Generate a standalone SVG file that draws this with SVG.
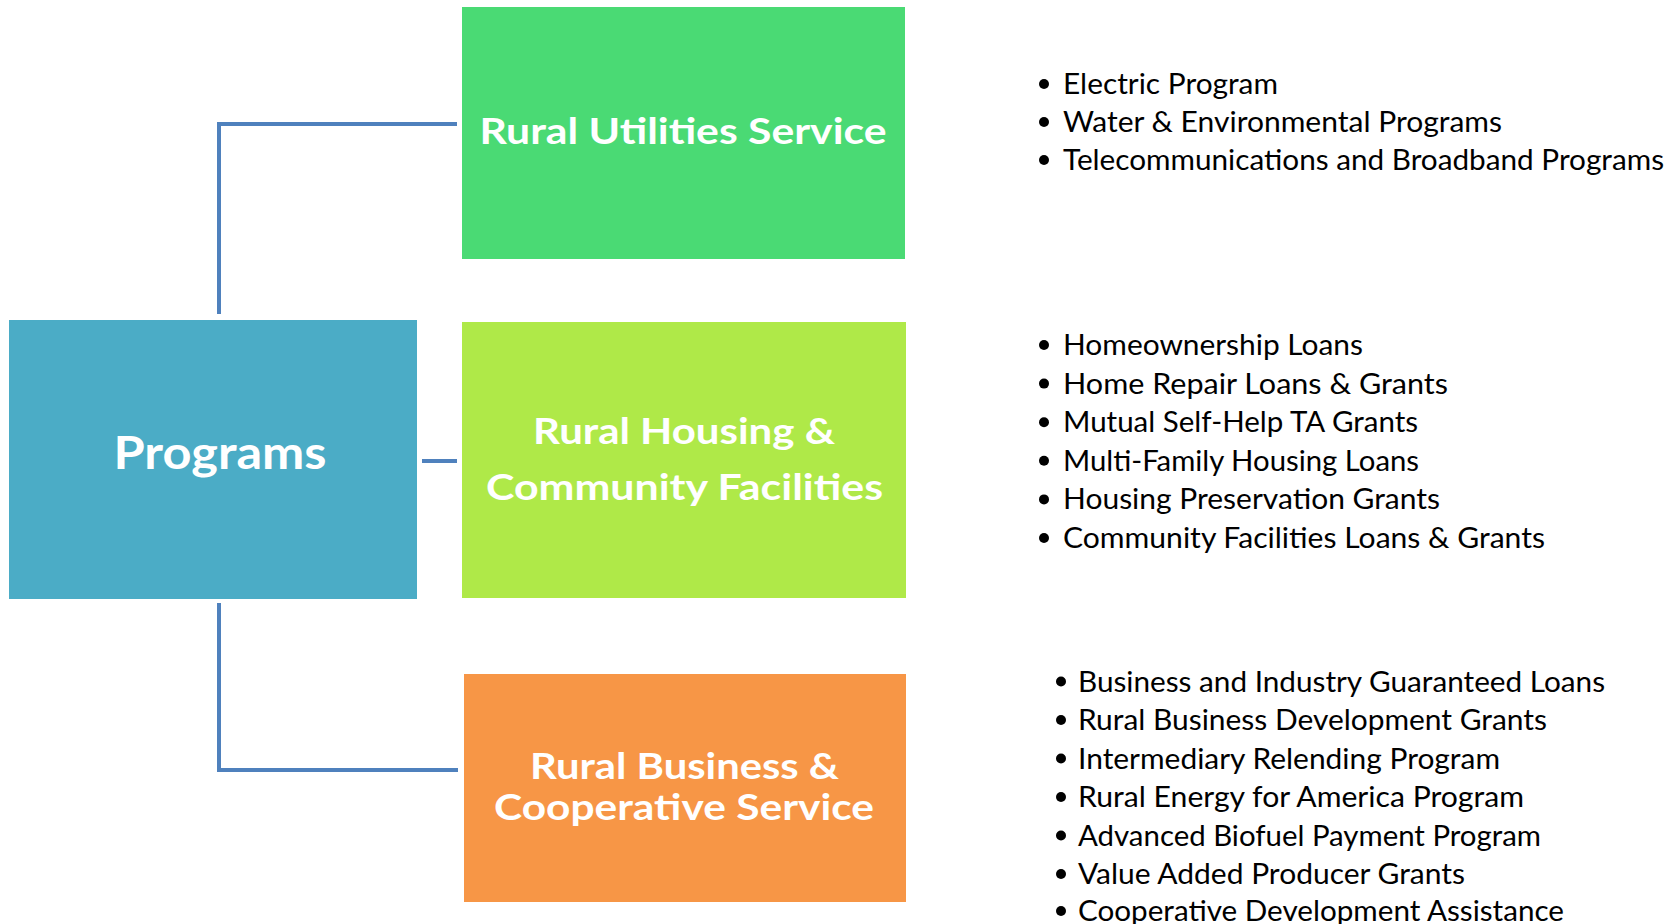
<svg xmlns="http://www.w3.org/2000/svg" width="1670" height="924" viewBox="0 0 1670 924">
<style>
.title{font-family:Lato,"Liberation Sans",sans-serif;font-weight:700;fill:#ffffff;text-anchor:middle}
.item{font-family:Lato,"Liberation Sans",sans-serif;font-size:28px;fill:#000000}
.bul{fill:#000000}
.conn{fill:none;stroke:#4F81BD;stroke-width:4}
</style>
<rect width="1670" height="924" fill="#ffffff"/>
<g id="connectors">
<polyline class="conn" points="219,314 219,124 457,124"/>
<line class="conn" x1="422" y1="461" x2="457" y2="461"/>
<polyline class="conn" points="219,603 219,770 458,770"/>
</g>
<g id="programs">
<rect x="9" y="320" width="408" height="279" fill="#4BACC6"/>
<text class="title" x="220" y="469" font-size="45" textLength="213" lengthAdjust="spacingAndGlyphs">Programs</text>
</g>
<g id="rus">
<rect x="462" y="7" width="443" height="252" fill="#4ADA74"/>
<text class="title" x="683" y="144" font-size="36" textLength="407" lengthAdjust="spacingAndGlyphs">Rural Utilities Service</text>
</g>
<g id="rhcf">
<rect x="462" y="322" width="444" height="276" fill="#AFE948"/>
<text class="title" x="684" y="444" font-size="36" textLength="302" lengthAdjust="spacingAndGlyphs">Rural Housing &amp;</text>
<text class="title" x="684.5" y="500" font-size="36" textLength="397" lengthAdjust="spacingAndGlyphs">Community Facilities</text>
</g>
<g id="rbcs">
<rect x="464" y="674" width="442" height="228" fill="#F79646"/>
<text class="title" x="684.5" y="779" font-size="36" textLength="309" lengthAdjust="spacingAndGlyphs">Rural Business &amp;</text>
<text class="title" x="684" y="820" font-size="36" textLength="380" lengthAdjust="spacingAndGlyphs">Cooperative Service</text>
</g>
<g id="rus-list">
<circle class="bul" cx="1044" cy="84" r="5"/><text class="item" x="1063" y="94" textLength="215" lengthAdjust="spacingAndGlyphs">Electric Program</text>
<circle class="bul" cx="1044" cy="122" r="5"/><text class="item" x="1063" y="132" textLength="439" lengthAdjust="spacingAndGlyphs">Water &amp; Environmental Programs</text>
<circle class="bul" cx="1044" cy="160" r="5"/><text class="item" x="1063" y="170" textLength="601" lengthAdjust="spacingAndGlyphs">Telecommunications and Broadband Programs</text>
</g>
<g id="rhcf-list">
<circle class="bul" cx="1044" cy="345" r="5"/><text class="item" x="1063" y="355" textLength="300" lengthAdjust="spacingAndGlyphs">Homeownership Loans</text>
<circle class="bul" cx="1044" cy="383.6" r="5"/><text class="item" x="1063" y="393.6" textLength="385" lengthAdjust="spacingAndGlyphs">Home Repair Loans &amp; Grants</text>
<circle class="bul" cx="1044" cy="422.2" r="5"/><text class="item" x="1063" y="432.2" textLength="355" lengthAdjust="spacingAndGlyphs">Mutual Self-Help TA Grants</text>
<circle class="bul" cx="1044" cy="460.8" r="5"/><text class="item" x="1063" y="470.8" textLength="356" lengthAdjust="spacingAndGlyphs">Multi-Family Housing Loans</text>
<circle class="bul" cx="1044" cy="499.4" r="5"/><text class="item" x="1063" y="509.4" textLength="377" lengthAdjust="spacingAndGlyphs">Housing Preservation Grants</text>
<circle class="bul" cx="1044" cy="538" r="5"/><text class="item" x="1063" y="548" textLength="482" lengthAdjust="spacingAndGlyphs">Community Facilities Loans &amp; Grants</text>
</g>
<g id="rbcs-list">
<circle class="bul" cx="1061" cy="681.5" r="5"/><text class="item" x="1078" y="691.5" textLength="527" lengthAdjust="spacingAndGlyphs">Business and Industry Guaranteed Loans</text>
<circle class="bul" cx="1061" cy="720" r="5"/><text class="item" x="1078" y="730" textLength="469" lengthAdjust="spacingAndGlyphs">Rural Business Development Grants</text>
<circle class="bul" cx="1061" cy="758.5" r="5"/><text class="item" x="1078" y="768.5" textLength="422" lengthAdjust="spacingAndGlyphs">Intermediary Relending Program</text>
<circle class="bul" cx="1061" cy="797" r="5"/><text class="item" x="1078" y="807" textLength="446" lengthAdjust="spacingAndGlyphs">Rural Energy for America Program</text>
<circle class="bul" cx="1061" cy="835.5" r="5"/><text class="item" x="1078" y="845.5" textLength="463" lengthAdjust="spacingAndGlyphs">Advanced Biofuel Payment Program</text>
<circle class="bul" cx="1061" cy="874" r="5"/><text class="item" x="1078" y="884" textLength="387" lengthAdjust="spacingAndGlyphs">Value Added Producer Grants</text>
<circle class="bul" cx="1061" cy="911" r="5"/><text class="item" x="1078" y="921" textLength="486" lengthAdjust="spacingAndGlyphs">Cooperative Development Assistance</text>
</g>
</svg>
